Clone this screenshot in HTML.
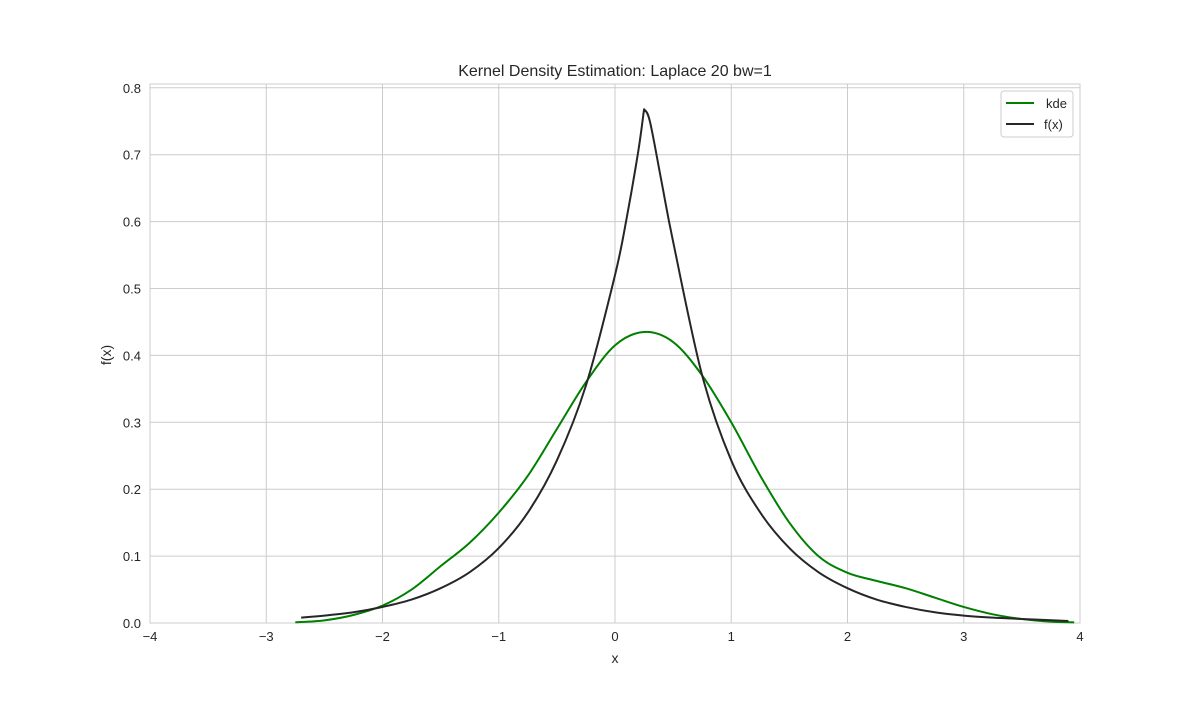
<!DOCTYPE html>
<html><head><meta charset="utf-8"><style>
body{margin:0;background:#fff;font-family:"Liberation Sans",Arial,sans-serif}
svg text{font-family:"Liberation Sans",Arial,sans-serif;fill:#262626}
</style></head><body>
<svg id="chart" width="1200" height="700" viewBox="0 0 1200 700" xmlns="http://www.w3.org/2000/svg">
<rect x="0" y="0" width="1200" height="700" fill="#fff"/>
<g id="grid"></g>
<rect x="150" y="84" width="930" height="539" fill="none" stroke="#ccc" stroke-width="1"/>
<g id="ticks"></g>
<g id="series"></g>
<text x="615" y="76" text-anchor="middle" font-size="16">Kernel Density Estimation: Laplace 20 bw=1</text>
<text x="615" y="663" text-anchor="middle" font-size="14">x</text>
<text x="111" y="355" text-anchor="middle" font-size="14" transform="rotate(-90 111 355)">f(x)</text>
<g>
<rect x="1001" y="91" width="72" height="46" rx="3" fill="#fff" stroke="#ccc"/>
<line x1="1006" y1="103" x2="1034" y2="103" stroke="#008000" stroke-width="2"/>
<text x="1046" y="108" font-size="13">kde</text>
<line x1="1006" y1="124" x2="1034" y2="124" stroke="#262626" stroke-width="2"/>
<text x="1044" y="129" font-size="13">f(x)</text>
</g>
</svg>
<script>
const xTicks=[-4,-3,-2,-1,0,1,2,3,4];
const xTickLabels=["\u22124","\u22123","\u22122","\u22121","0","1","2","3","4"];
const yTicks=[0,0.1,0.2,0.3,0.4,0.5,0.6,0.7,0.8];
const yTickLabels=["0.0","0.1","0.2","0.3","0.4","0.5","0.6","0.7","0.8"];
const fxLeftX=[-2.7,-2.5,-2.25,-2,-1.75,-1.5,-1.25,-1,-0.75,-0.5,-0.25,0,0.1,0.2,0.25];
const fxLeftY=[0.008,0.011,0.016,0.024,0.035,0.052,0.076,0.112,0.165,0.243,0.355,0.52,0.605,0.705,0.768];
const fxRightX=[0.25,0.3,0.4,0.5,0.75,1,1.25,1.5,1.75,2,2.25,2.5,2.75,3,3.25,3.5,3.9];
const fxRightY=[0.768,0.75,0.66,0.57,0.37,0.243,0.165,0.112,0.076,0.052,0.035,0.024,0.016,0.011,0.008,0.006,0.003];
const kdeX=[-2.75,-2.5,-2.25,-2,-1.75,-1.5,-1.25,-1,-0.75,-0.5,-0.25,0,0.25,0.5,0.75,1,1.25,1.5,1.75,2,2.25,2.5,2.75,3,3.25,3.5,3.75,3.95];
const kdeY=[0.001,0.004,0.012,0.026,0.05,0.085,0.12,0.165,0.22,0.29,0.36,0.415,0.435,0.42,0.37,0.30,0.22,0.15,0.10,0.075,0.063,0.052,0.038,0.024,0.013,0.006,0.002,0.001];
const sx=v=>150+(v+4)*930/8;
const sy=v=>623-v*669;
const NS="http://www.w3.org/2000/svg";
const grid=document.getElementById('grid'),ticks=document.getElementById('ticks'),series=document.getElementById('series');
function mk(t,a){const e=document.createElementNS(NS,t);for(const k in a)e.setAttribute(k,a[k]);return e;}
xTicks.forEach((v,i)=>{
 const l=mk('line',{x1:sx(v),x2:sx(v),y1:84,y2:623,stroke:'#ccc'});
 
 
 grid.appendChild(l);
 const t=mk('text',{x:sx(v),y:641,'text-anchor':'middle','font-size':13});
 
 
 t.textContent=xTickLabels[i];ticks.appendChild(t);
});
yTicks.forEach((v,i)=>{
 const l=mk('line',{x1:150,x2:1080,y1:sy(v),y2:sy(v),stroke:'#ccc'});
 
 
 grid.appendChild(l);
 const t=mk('text',{x:141,y:sy(v)+5,'text-anchor':'end','font-size':13});
 
 
 t.textContent=yTickLabels[i];ticks.appendChild(t);
});
function smooth(xs,ys,move){
 const p=xs.map((x,i)=>[sx(x),sy(ys[i])]);
 let d=(move?'M':'L')+`${p[0][0]},${p[0][1]}`;
 for(let i=0;i<p.length-1;i++){
  const p0=p[i-1]||p[i],p1=p[i],p2=p[i+1],p3=p[i+2]||p2;
  const c1=[p1[0]+(p2[0]-p0[0])/6,p1[1]+(p2[1]-p0[1])/6];
  const c2=[p2[0]-(p3[0]-p1[0])/6,p2[1]-(p3[1]-p1[1])/6];
  d+=` C${c1[0]},${c1[1]} ${c2[0]},${c2[1]} ${p2[0]},${p2[1]}`;
 }
 return d;
}
const k=mk('path',{d:smooth(kdeX,kdeY,true),fill:'none',stroke:'#008000','stroke-width':2});


series.appendChild(k);
const f=mk('path',{d:smooth(fxLeftX,fxLeftY,true)+' '+smooth(fxRightX,fxRightY,false),fill:'none',stroke:'#262626','stroke-width':2,'stroke-linejoin':'round'});


series.appendChild(f);
</script>
</body></html>
